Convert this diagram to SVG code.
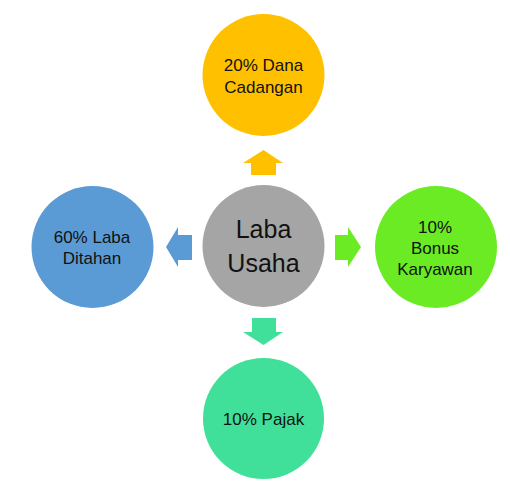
<svg xmlns="http://www.w3.org/2000/svg" width="510" height="490" viewBox="0 0 510 490">
<style>
text{font-family:"Liberation Sans",Arial,sans-serif;fill:#111;text-anchor:middle}
.s{font-size:17px}
.b{font-size:25px}
</style>
<rect width="510" height="490" fill="#fff"/>
<g id="connectors">
<polygon fill="#FFC000" points="251,175 276,175 276,163 283,163 263.5,150 243,163 251,163"/>
<polygon fill="#5B9BD5" points="192,235 192,260 178,260 178,267 166,247 178,227 178,235"/>
<polygon fill="#6AEB24" points="335,235 335,260 348,260 348,267 361,247 348,227 348,235"/>
<polygon fill="#40E09A" points="252,318 276,318 276,332 283,332 263.5,345 243,332 252,332"/>
</g>
<g id="center">
<circle cx="263.5" cy="246" r="61" fill="#A5A5A5"/>
<text class="b" x="263.5" y="238">Laba</text>
<text class="b" x="263.5" y="272">Usaha</text>
</g>
<g id="top">
<circle cx="263.5" cy="75" r="61" fill="#FFC000"/>
<text class="s" x="263.5" y="71">20% Dana</text>
<text class="s" x="263.5" y="93">Cadangan</text>
</g>
<g id="left">
<circle cx="92.5" cy="247" r="61" fill="#5B9BD5"/>
<text class="s" x="92" y="243">60% Laba</text>
<text class="s" x="92" y="264">Ditahan</text>
</g>
<g id="right">
<circle cx="436" cy="247" r="61" fill="#6AEB24"/>
<text class="s" x="435" y="233">10%</text>
<text class="s" x="435" y="254">Bonus</text>
<text class="s" x="435" y="275">Karyawan</text>
</g>
<g id="bottom">
<circle cx="263.5" cy="418.5" r="60.5" fill="#40E09A"/>
<text class="s" x="263.5" y="425">10% Pajak</text>
</g>
</svg>
